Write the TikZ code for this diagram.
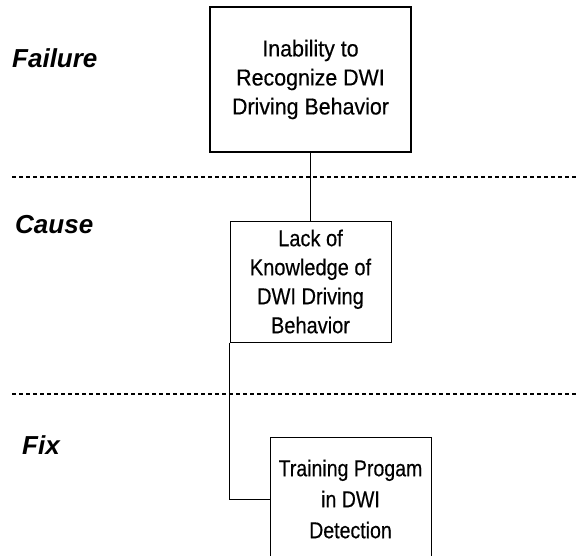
\documentclass[tikz,border=0pt]{standalone}
\usepackage{fontspec}
\setmainfont{Liberation Sans}
\newfontfamily\boxfontA[FakeStretch=0.93,FakeBold=0.4]{Liberation Sans}
\newfontfamily\boxfontB[FakeStretch=0.87,FakeBold=0.4]{Liberation Sans}
\newfontfamily\boxfontC[FakeStretch=0.85,FakeBold=0.4]{Liberation Sans}
\begin{document}
\begin{tikzpicture}[x=1pt,y=-1pt,
  levellabel/.style={anchor=west,inner sep=0pt,font=\fontsize{26}{30}\selectfont\bfseries\itshape},
  stepbox/.style={draw,rectangle,inner sep=0pt,align=center,fill=white},
  divider/.style={line width=1.2pt,dash pattern=on 4pt off 3pt},
  link/.style={line width=1pt}]
  % page frame
  \fill[white] (0,0) rectangle (577,555);
  \useasboundingbox (0,0) rectangle (577,555);

  % level separators
  \coordinate (d1a) at (12,177);
  \coordinate (d1b) at (577,177);
  \coordinate (d2a) at (12,394);
  \coordinate (d2b) at (577,394);
  \draw[divider] (d1a) -- (d1b);
  \draw[divider] (d2a) -- (d2b);

  % level labels
  \node[levellabel] (lfail)  at (12,58)  {Failure};
  \node[levellabel] (lcause) at (15,225) {Cause};
  \node[levellabel] (lfix)   at (22,445) {Fix};

  % boxes
  \node[stepbox,line width=1.8pt,minimum width=201pt,minimum height=145pt,
        font=\boxfontA\fontsize{23}{29}\selectfont] (b1) at (310.5,79.5)
    {Inability to\\Recognize DWI\\Driving Behavior};
  \node[stepbox,line width=1pt,minimum width=161pt,minimum height=121pt,
        font=\boxfontB\fontsize{23}{29}\selectfont] (b2) at (310.5,281.5)
    {Lack of\\Knowledge of\\DWI Driving\\Behavior};
  \node[stepbox,line width=1pt,minimum width=161pt,minimum height=124pt,
        font=\boxfontC\fontsize{23}{31}\selectfont] (b3) at (350.5,499)
    {Training Progam\\in DWI\\Detection};

  % connectors
  \draw[link] (b1.south) -- (b2.north);
  \draw[link] (b2.south west) |- (b3.west);
\end{tikzpicture}
\end{document}
